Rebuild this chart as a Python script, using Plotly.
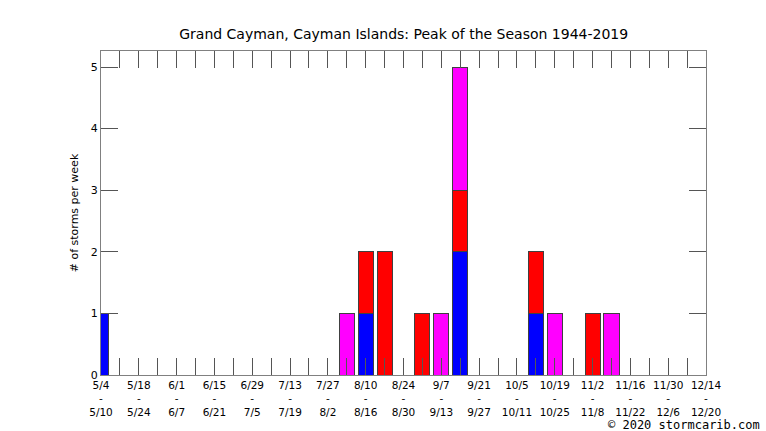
import plotly.graph_objects as go

week_start = ["5/4", "5/11", "5/18", "5/25", "6/1", "6/8", "6/15", "6/22", "6/29", "7/6",
              "7/13", "7/20", "7/27", "8/3", "8/10", "8/17", "8/24", "8/31", "9/7", "9/14",
              "9/21", "9/28", "10/5", "10/12", "10/19", "10/26", "11/2", "11/9", "11/16",
              "11/23", "11/30", "12/7", "12/14"]
week_end = ["5/10", "5/17", "5/24", "5/31", "6/7", "6/14", "6/21", "6/28", "7/5", "7/12",
            "7/19", "7/26", "8/2", "8/9", "8/16", "8/23", "8/30", "9/6", "9/13", "9/20",
            "9/27", "10/4", "10/11", "10/18", "10/25", "11/1", "11/8", "11/15", "11/22",
            "11/29", "12/6", "12/13", "12/20"]

blue = [1, 0, 0, 0, 0, 0, 0, 0, 0, 0, 0, 0, 0, 0, 1, 0, 0, 0, 0, 2,
        0, 0, 0, 1, 0, 0, 0, 0, 0, 0, 0, 0, 0]
red = [0, 0, 0, 0, 0, 0, 0, 0, 0, 0, 0, 0, 0, 0, 1, 2, 0, 1, 0, 1,
       0, 0, 0, 1, 0, 0, 1, 0, 0, 0, 0, 0, 0]
magenta = [0, 0, 0, 0, 0, 0, 0, 0, 0, 0, 0, 0, 0, 1, 0, 0, 0, 0, 1, 2,
           0, 0, 0, 0, 1, 0, 0, 1, 0, 0, 0, 0, 0]

x = list(range(len(week_start)))
ticktext = [f"{s}<br>-<br>{e}" if i % 2 == 0 else "" for i, (s, e) in enumerate(zip(week_start, week_end))]

fig = go.Figure()
for vals, col in [(blue, "#0000FF"), (red, "#FF0000"), (magenta, "#FF00FF")]:
    fig.add_trace(go.Bar(x=x, y=vals, marker=dict(color=col, line=dict(color="#404040", width=1)),
                         width=0.8, showlegend=False))

fig.update_layout(
    barmode="stack",
    width=766, height=431,
    margin=dict(l=101, r=60, t=51, b=56),
    paper_bgcolor="white", plot_bgcolor="white",
    font=dict(family="DejaVu Sans", size=11, color="black"),
    title=dict(text="Grand Cayman, Cayman Islands: Peak of the Season 1944-2019",
               x=0.527, xanchor="center", y=0.922, yanchor="middle",
               font=dict(size=14, family="DejaVu Sans", color="black")),
    xaxis=dict(range=[0, 32], tickvals=x, ticktext=ticktext, ticks="inside", ticklen=17,
               tickcolor="#555555", showline=True, linecolor="#808080", mirror="ticks",
               showgrid=False, zeroline=False, tickangle=0, tickfont=dict(size=10.5),
               automargin=False),
    yaxis=dict(range=[0, 5.26], tickvals=[0, 1, 2, 3, 4, 5], ticks="inside", ticklen=17,
               tickcolor="#555555", showline=True, linecolor="#808080", mirror="ticks",
               showgrid=False, zeroline=False, automargin=False,
               title=dict(text="# of storms per week", font=dict(size=11), standoff=9)),
    annotations=[dict(text="© 2020 stormcarib.com", xref="paper", yref="paper",
                      x=1.0926, y=-0.126, xanchor="right", yanchor="top", showarrow=False,
                      font=dict(family="DejaVu Sans Mono", size=12, color="black"))],
)

fig.write_html("out.html", post_script="document.body.style.margin='0';",
               config={"displayModeBar": False})
